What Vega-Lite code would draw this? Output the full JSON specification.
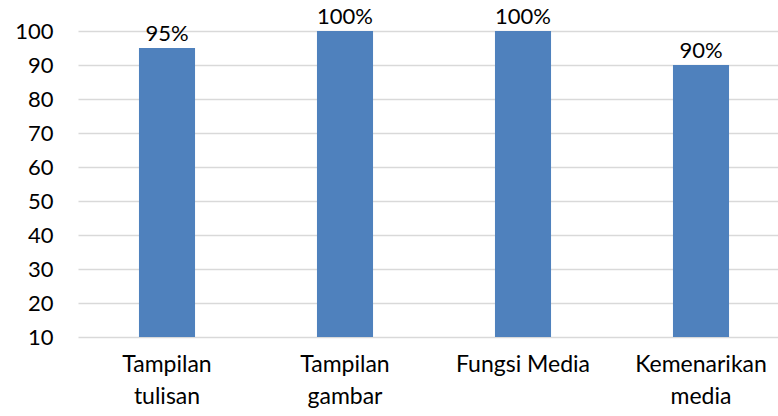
{
  "$schema": "https://vega.github.io/schema/vega-lite/v6.json",
  "width": 700,
  "height": 306,
  "autosize": {"type": "none"},
  "padding": {"left": 78, "top": 31, "right": 0, "bottom": 79},
  "config": {
    "view": {"stroke": null},
    "font": "Lato",
    "axis": {"labelColor": "#000000", "labelFont": "Lato"}
  },
  "data": {
    "values": [
      {"kategori": "Tampilan tulisan", "nilai": 95},
      {"kategori": "Tampilan gambar", "nilai": 100},
      {"kategori": "Fungsi Media", "nilai": 100},
      {"kategori": "Kemenarikan media", "nilai": 90}
    ]
  },
  "encoding": {
    "x": {
      "field": "kategori",
      "type": "nominal",
      "sort": null,
      "scale": {"range": [0, 712], "paddingInner": 0, "paddingOuter": 0},
      "axis": {
        "title": null,
        "labelAngle": 0,
        "domain": false,
        "ticks": false,
        "labelFontSize": 23,
        "labelPadding": 16,
        "labelLineHeight": 32,
        "labelExpr": "datum.value == 'Fungsi Media' ? datum.value : split(datum.value, ' ')"
      }
    },
    "y": {
      "field": "nilai",
      "type": "quantitative",
      "scale": {"domain": [10, 100], "zero": false, "nice": false},
      "axis": {
        "title": null,
        "values": [10, 20, 30, 40, 50, 60, 70, 80, 90, 100],
        "grid": true,
        "gridColor": "#d9d9d9",
        "gridWidth": 1.3,
        "domain": false,
        "ticks": false,
        "labelFontSize": 22,
        "labelPadding": 25
      }
    }
  },
  "layer": [
    {
      "mark": {"type": "bar", "color": "#4f81bd", "width": {"band": 0.315}},
      "encoding": {"y2": {"datum": 10}}
    },
    {
      "mark": {
        "type": "text",
        "fontSize": 22,
        "baseline": "alphabetic",
        "dy": -7,
        "color": "#000000",
        "text": {"expr": "datum.nilai + '%'"}
      }
    }
  ]
}
